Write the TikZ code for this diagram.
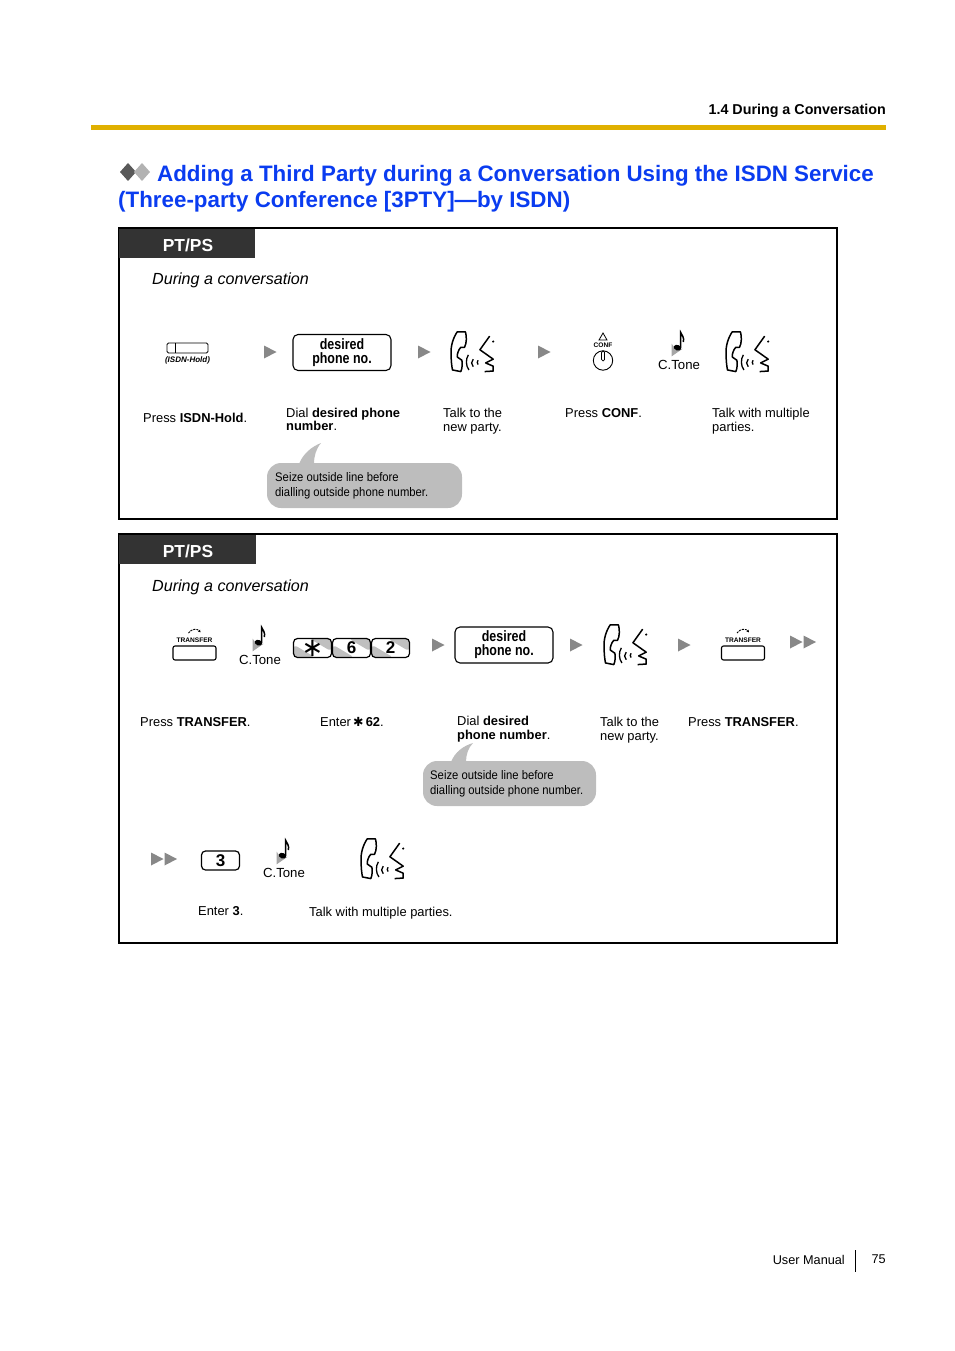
\documentclass[tikz,border=0pt]{standalone}
\usepackage{fontspec}
\setmainfont{Liberation Sans}
\newfontfamily\narrowfont[FakeStretch=0.91]{Liberation Sans}
\newfontfamily\narrowbold[FakeStretch=0.83]{Liberation Sans Bold}
\newfontfamily\symbfont{DejaVu Sans}
\usetikzlibrary{arrows.meta,positioning,calc}
\definecolor{titleblue}{HTML}{0A3CF0}
\definecolor{rulegold}{HTML}{E0B000}
\definecolor{headdark}{HTML}{333333}
\definecolor{trigray}{HTML}{888888}
\definecolor{bubblegray}{HTML}{BDBDBD}
\tikzset{
  panel/.style   = {draw=black, line width=1.8pt},
  headblk/.style = {fill=headdark, text=white, font=\fontsize{17.4}{17}\selectfont\bfseries, inner sep=0pt},
  lbl/.style     = {anchor=west, align=left, inner sep=0pt, font=\fontsize{12.9}{13.6}\selectfont},
  cond/.style    = {anchor=west, align=left, inner sep=0pt, font=\fontsize{16.1}{16.5}\selectfont\itshape},
  ttl/.style     = {anchor=west, inner sep=0pt, text=titleblue, font=\fontsize{22.35}{24}\selectfont\bfseries},
  dialblk/.style = {draw, line width=1.1pt, rounded corners=5pt, minimum width=98pt, minimum height=36pt,
                    align=center, inner sep=0pt, font=\fontsize{15}{14}\narrowbold\selectfont},
  keyblk/.style  = {draw, line width=1.2pt, rounded corners=4pt, minimum width=38pt, minimum height=19pt, inner sep=0pt,
                    font=\fontsize{17}{17}\selectfont\bfseries},
  grkeyblk/.style = {keyblk,
                    path picture={\fill[black!25] (path picture bounding box.south west) -- ++(22pt,0pt)
                        -- ++(-22pt,13pt) -- cycle;
                      \fill[black!25] (path picture bounding box.north east) -- ++(-22pt,0pt)
                        -- ++(22pt,-13pt) -- cycle;}},
  bub/.style     = {fill=bubblegray, rounded corners=14pt, inner sep=0pt},
  bubtxt/.style  = {anchor=west, align=left, inner sep=0pt, font=\fontsize{12.4}{15}\narrowfont\selectfont},
  tone/.style    = {inner sep=0pt, font=\fontsize{13.2}{13}\selectfont},
  keycap/.style  = {inner sep=0pt, font=\fontsize{6.6}{7}\selectfont\bfseries},
  nextmark/.pic  = {\fill[trigray] (0,-6.5) -- (12.5,0) -- (0,6.5) -- cycle;},
  bothmark/.pic  = {\fill[trigray] (0,-6.5) -- (12.5,0) -- (0,6.5) -- cycle;
                    \fill[trigray] (13.5,-6.5) -- (26,0) -- (13.5,6.5) -- cycle;},
  talk/.pic      = {
    \draw[line width=1.5pt, line join=round] (6.7,1.7) .. controls (3,7) and (0.5,15) .. (1,22)
      .. controls (1,28) and (1.5,33) .. (2.3,37) -- (10,38.5) .. controls (11.5,35) and (11.5,31) .. (11,28)
      -- (6.7,25) .. controls (6.5,22) and (8,18) .. (10,16) -- (13.5,16) .. controls (15.5,12) and (15.5,6) .. (14.3,1.7)
      -- cycle;
    \draw[line width=1.3pt] (17,23) .. controls (14.5,27) and (14.5,33) .. (17.5,37);
    \draw[line width=1.3pt] (21.5,27) .. controls (19.5,29) and (19.5,32) .. (21.5,34);
    \draw[line width=1.3pt] (26,28) .. controls (25,29) and (25,31) .. (26,32);
    \draw[line width=1.5pt, line join=round] (36.7,5.7) -- (27.7,18.3) -- (40,27) -- (33,30.5) -- (40,33.5) -- (40,38)
      -- (32,38.5);
    \fill (40,10.7) circle (1.1);
  },
  ctone/.pic     = {
    \fill[black!35] (-7.3,11.7) -- (-3,18.3) -- (3.7,16.7) -- (-7.3,24.3) -- cycle;
    \draw[line width=1.5pt] (1.7,16) -- (1.7,0.5) .. controls (3,3) and (5.5,6) .. (4.3,10);
    \fill[rotate around={-20:(-1.5,15.7)}] (-1.5,15.7) ellipse (3.8 and 2.8);
  },
  xferkey/.pic   = {
    \draw[line width=0.9pt, dash pattern=on 2pt off 1pt, -{Latex[length=2.5pt,width=3pt]}] (-6,-13) .. controls (-3,-17.5) and (3,-17.5) .. (6,-13.5);
    \node[keycap] (-cap) at (0,-5.5) {TRANSFER};
    \draw[line width=1.1pt, rounded corners=2pt] (-21.5,0) rectangle (21.5,14);
  }
}
\begin{document}
\begin{tikzpicture}[x=1pt, y=-1pt]
\useasboundingbox (0,0) rectangle (954,1351);

\node[anchor=east, inner sep=0pt, font=\fontsize{14.3}{15}\selectfont\bfseries] (sect) at (886,110.5) {1.4 During a Conversation};
\fill[rulegold] (91,125) rectangle (886,130);

% title
\fill[black!65] (120,172) -- (128,163) -- (136,172) -- (128,181) -- cycle;
\fill[black!30] (134,172) -- (142,163) -- (150,172) -- (142,181) -- cycle;
\node[ttl] (titlea) at (157,176) {Adding a Third Party during a Conversation Using the ISDN Service};
\node[ttl] (titleb) at (118,202) {(Three-party Conference [3PTY]---by ISDN)};

% first panel
\draw[panel] (119,228) rectangle (837,519);
\fill[headdark] (119,229) rectangle (255,258);
\node[headblk] (heada) at (188,245.5) {PT/PS};
\node[cond] (durea) at (152,280) {During a conversation};

\draw[line width=0.9pt, rounded corners=1.5pt] (167,343) rectangle (208,353);
\draw[line width=1.4pt] (175.5,343) -- (175.5,353);
\node[inner sep=0pt, font=\fontsize{8}{8}\selectfont\bfseries\itshape] (isdn) at (187.5,360) {(ISDN-Hold)};
\pic at (264,352) {nextmark};
\node[dialblk] (dialone) at (342,352.5) {desired\\phone no.};
\pic at (418,352) {nextmark};
\pic[scale=1.08] at (450,330) {talk};
\pic at (538,352) {nextmark};
\draw[line width=0.8pt] (603,333) -- (607,340) -- (599,340) -- cycle;
\node[keycap] (conf) at (603,345) {CONF};
\draw[line width=0.9pt] (603,360.5) circle (9.7);
\draw[line width=0.7pt, rounded corners=1.5pt] (601.5,351) rectangle (604.5,361);
\pic at (679,332) {ctone};
\node[tone] (tonea) at (679,365) {C.Tone};
\pic[scale=1.08] at (725,330) {talk};

\node[lbl] (pressisdn) at (143,417.5) {Press \textbf{ISDN-Hold}.};
\node[lbl] (dialtxt) at (286,419.5) {Dial \textbf{desired phone}\\\textbf{number}.};
\node[lbl] (talkone) at (443,421) {Talk to the\\new party.};
\node[lbl] (pressconf) at (565,413.5) {Press \textbf{CONF}.};
\node[lbl] (talkmulti) at (712,421) {Talk with multiple\\parties.};

\fill[bubblegray] (299,464) .. controls (303,454) and (311,447) .. (321,443) .. controls (316,449) and (314,456) .. (314,464) -- cycle;
\fill[bub] (267,463) rectangle (462,508);
\node[bubtxt] (seizea) at (275,486) {Seize outside line before\\dialling outside phone number.};

% second panel
\draw[panel] (119,534) rectangle (837,943);
\fill[headdark] (119,535) rectangle (256,564);
\node[headblk] (headb) at (188,551.5) {PT/PS};
\node[cond] (dureb) at (152,587) {During a conversation};

\pic at (194.5,646) {xferkey};
\pic at (260,627) {ctone};
\node[tone] (toneb) at (260,660) {C.Tone};
\node[grkeyblk] (keystar) at (312.5,648) {\mdseries\fontsize{26}{26}\symbfont\raisebox{-5pt}{∗}};
\node[grkeyblk] (keysix) at (351.5,648) {6};
\node[grkeyblk] (keytwo) at (390.5,648) {2};
\pic at (432,645) {nextmark};
\node[dialblk] (dialtwo) at (504,645) {desired\\phone no.};
\pic at (570,645) {nextmark};
\pic[scale=1.08] at (603,623) {talk};
\pic at (678,645) {nextmark};
\pic at (743,646) {xferkey};
\pic at (790,642) {bothmark};

\node[lbl] (pressxa) at (140,722.5) {Press \textbf{TRANSFER}.};
\node[lbl] (enterst) at (320,721.5) {Enter\,{\fontsize{12.5}{12}\symbfont ✱}\,\textbf{62}.};
\node[lbl] (dialtxtb) at (457,729) {Dial \textbf{desired}\\\textbf{phone number}.};
\node[lbl] (talktwo) at (600,730) {Talk to the\\new party.};
\node[lbl] (pressxb) at (688,722.5) {Press \textbf{TRANSFER}.};

\fill[bubblegray] (451,762) .. controls (455,752) and (463,746) .. (473,743) .. controls (468,748) and (466,755) .. (466,762) -- cycle;
\fill[bub] (423,761) rectangle (596,806);
\node[bubtxt] (seizeb) at (430,784) {Seize outside line before\\dialling outside phone number.};

\pic at (151,859) {bothmark};
\node[keyblk] (keythree) at (220.5,860.5) {3};
\pic at (284,840) {ctone};
\node[tone] (tonec) at (284,873) {C.Tone};
\pic[scale=1.08] at (360,837) {talk};

\node[lbl] (enterth) at (198,911.5) {Enter \textbf{3}.};
\node[lbl] (talkmultib) at (309,913.5) {Talk with multiple parties.};

% footer
\node[anchor=east, inner sep=0pt, font=\fontsize{12.7}{13}\selectfont] (manual) at (845,1259.5) {User Manual};
\draw[line width=0.8pt] (855,1250) -- (855,1272);
\node[anchor=east, inner sep=0pt, font=\fontsize{12.7}{13}\selectfont] (pageno) at (886,1259.5) {75};
\end{tikzpicture}
\end{document}
